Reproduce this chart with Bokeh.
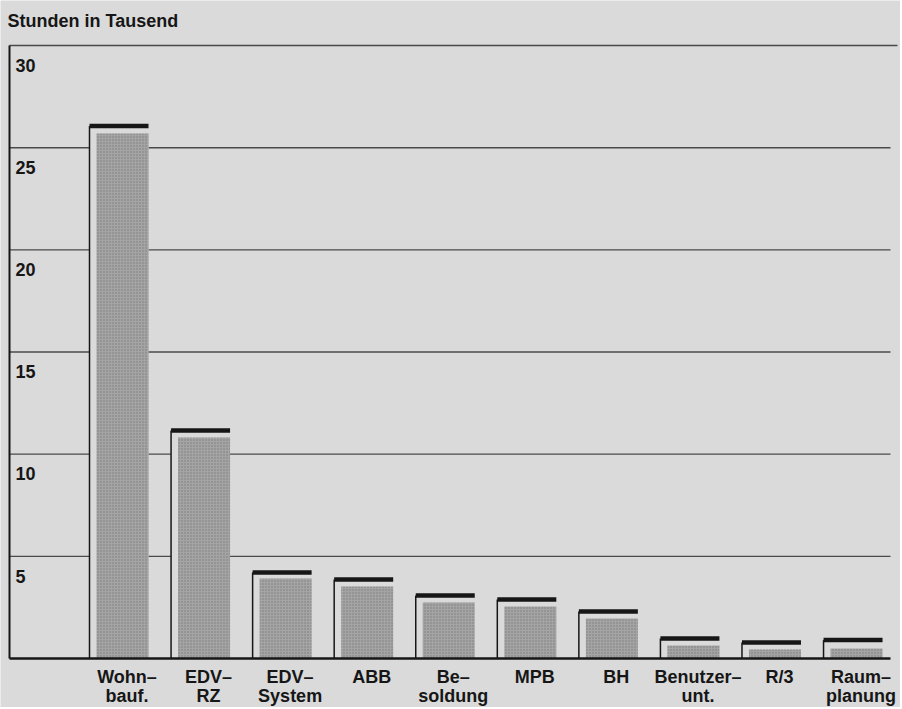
import numpy as np
from bokeh.plotting import figure
from bokeh.models import ColumnDataSource, Range1d
from bokeh.core.properties import value
from bokeh.embed import file_html
from bokeh.resources import INLINE

# ---------------- data ----------------
label_line1 = ["Wohn–", "EDV–", "EDV–", "ABB", "Be–", "MPB", "BH", "Benutzer–", "R/3", "Raum–"]
label_line2 = ["bauf.", "RZ", "System", "", "soldung", "", "", "unt.", "", "planung"]
total_hours = [26.06, 11.16, 4.21, 3.87, 3.08, 2.89, 2.30, 0.98, 0.78, 0.90]   # black top edge
inner_hours = [25.69, 10.82, 3.92, 3.52, 2.74, 2.54, 1.96, 0.64, 0.44, 0.49]   # stippled bar
y_ticks = [5, 10, 15, 20, 25, 30]
y_tick_labels = ["5", "10", "15", "20", "25", "30"]
title_text = "Stunden in Tausend"

# ---------------- style ----------------
BG = "#dadada"
INK = "#161616"
GRID = "#4a4a4a"
BAR = "#a4a4a4"
FONT = value("Liberation Sans")

W, H = 900, 707
PX_X = 81.56          # px per category step
PX_Y = 20.433         # px per 1000 h
X0 = -118.5 / PX_X    # data x at left edge of canvas
Y_TOP = 658.0 / PX_Y  # data y at top edge of canvas
Y0 = Y_TOP - H / PX_Y

p = figure(width=W, height=H, output_backend="svg", toolbar_location=None,
           x_range=Range1d(X0, X0 + W / PX_X), y_range=Range1d(Y0, Y_TOP),
           min_border=0, background_fill_color=BG, border_fill_color=BG,
           outline_line_color=None)
p.axis.visible = False
p.grid.visible = False

n = len(label_line1)
xs = np.arange(n, dtype=float)
half = 29.5 / PX_X
inset = 7.0 / PX_X
left_edge = X0 + 9.0 / PX_X
right_grid = X0 + 890 / PX_X
right_top = X0 + 897 / PX_X

src = ColumnDataSource(dict(
    x=xs, left=xs - half, right=xs + half, gleft=xs - half + inset,
    total=total_hours, inner=inner_hours, zero=[0] * n,
    l1=label_line1, l2=label_line2,
))

# grid lines (5..25) and top frame line (30)
grid_vals = [v for v in y_ticks if v < 30]
p.segment(x0=[left_edge] * len(grid_vals), x1=[right_grid] * len(grid_vals),
          y0=grid_vals, y1=grid_vals, line_color=GRID, line_width=1.4)
p.segment(x0=[left_edge], x1=[right_top], y0=[y_ticks[-1]], y1=[y_ticks[-1]],
          line_color=GRID, line_width=1.6)
# left frame line
p.segment(x0=[left_edge], x1=[left_edge], y0=[0], y1=[y_ticks[-1]],
          line_color=INK, line_width=2)

# bar boxes (cover the grid)
p.quad(left="left", right="right", bottom="zero", top="total", source=src,
       fill_color=BG, line_color=None)
# stippled inner bars
p.quad(left="gleft", right="right", bottom="zero", top="inner", source=src,
       fill_color=BAR, line_color=None,
       hatch_pattern="dot", hatch_color="#7c7c7c", hatch_scale=3, hatch_weight=0.8)
# left edge of each box
p.segment(x0="left", x1="left", y0="zero", y1="total", source=src,
          line_color=INK, line_width=1.5)
# thick top edge
p.segment(x0="left", x1="right", y0="total", y1="total", source=src,
          line_color=INK, line_width=4.5)

# baseline
p.segment(x0=[left_edge], x1=[right_grid], y0=[0], y1=[0], line_color=INK, line_width=2.5)

# y tick labels inside the plot, below each line
p.text(x=[X0 + 15 / PX_X] * len(y_ticks), y=[v - 0.97 for v in y_ticks], text=y_tick_labels,
       text_font=FONT, text_font_style="bold", text_font_size="18px",
       text_color=INK, text_align="left", text_baseline="middle")

# category labels
p.text(x="x", y=-0.9, text="l1", source=src, x_offset=8,
       text_font=FONT, text_font_style="bold", text_font_size="18px",
       text_color=INK, text_align="center", text_baseline="middle")
p.text(x="x", y=-1.85, text="l2", source=src, x_offset=8,
       text_font=FONT, text_font_style="bold", text_font_size="18px",
       text_color=INK, text_align="center", text_baseline="middle")

# title
p.text(x=[X0 + 7 / PX_X], y=[31.22], text=[title_text],
       text_font=FONT, text_font_style="bold", text_font_size="18px",
       text_color=INK, text_align="left", text_baseline="middle")

open("out.html", "w").write(file_html(p, INLINE))
